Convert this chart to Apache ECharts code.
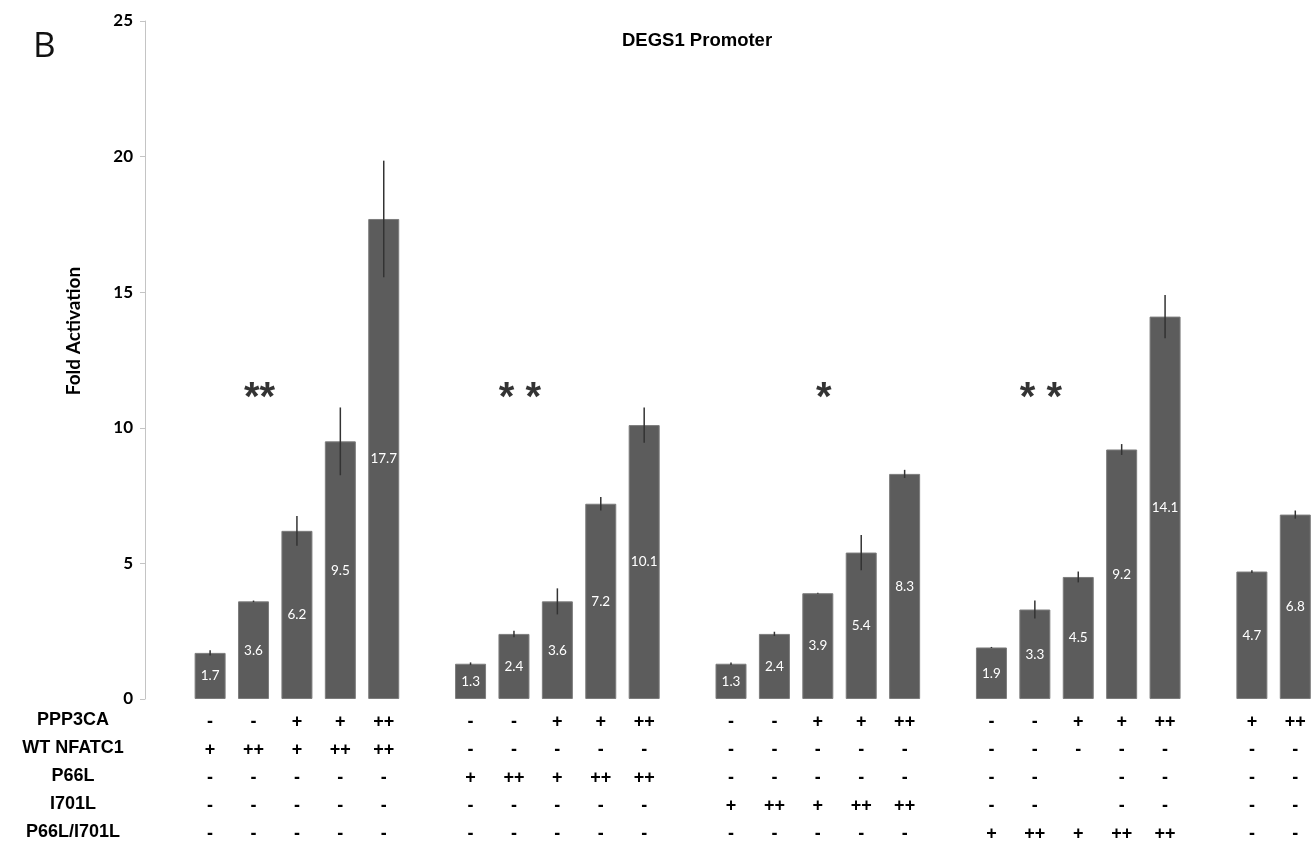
<!DOCTYPE html>
<html>
<head>
<meta charset="utf-8">
<title>DEGS1 Promoter</title>
<script src="https://cdn.jsdelivr.net/npm/echarts@6/dist/echarts.min.js"></script>
<style>
  html, body { margin: 0; padding: 0; background: #fff; }
  #main { width: 1313px; height: 844px; }
</style>
</head>
<body>
<div id="main"></div>
<script>
// bar values, one slot per column, null = gap between groups
const foldValues = [null, 1.7, 3.6, 6.2, 9.5, 17.7,
                    null, 1.3, 2.4, 3.6, 7.2, 10.1,
                    null, 1.3, 2.4, 3.9, 5.4, 8.3,
                    null, 1.9, 3.3, 4.5, 9.2, 14.1,
                    null, 4.7, 6.8];
// error bar half-lengths
const errValues = [null, 0.1, 0.03, 0.55, 1.25, 2.15,
                   null, 0.05, 0.12, 0.48, 0.25, 0.65,
                   null, 0.05, 0.08, 0.02, 0.65, 0.15,
                   null, 0.02, 0.33, 0.2, 0.2, 0.8,
                   null, 0.05, 0.15];

// table under the bars
const rowNames = ['PPP3CA', 'WT NFATC1', 'P66L', 'I701L', 'P66L/I701L'];
const rowPPP3CA  = ['', '-', '-', '+', '+', '++', '', '-', '-', '+', '+', '++', '', '-', '-', '+', '+', '++', '', '-', '-', '+', '+', '++', '', '+', '++'];
const rowNFATC1  = ['', '+', '++', '+', '++', '++', '', '-', '-', '-', '-', '-', '', '-', '-', '-', '-', '-', '', '-', '-', '-', '-', '-', '', '-', '-'];
const rowP66L    = ['', '-', '-', '-', '-', '-', '', '+', '++', '+', '++', '++', '', '-', '-', '-', '-', '-', '', '-', '-', ' ', '-', '-', '', '-', '-'];
const rowI701L   = ['', '-', '-', '-', '-', '-', '', '-', '-', '-', '-', '-', '', '+', '++', '+', '++', '++', '', '-', '-', ' ', '-', '-', '', '-', '-'];
const rowDouble  = ['', '-', '-', '-', '-', '-', '', '-', '-', '-', '-', '-', '', '-', '-', '-', '-', '-', '', '+', '++', '+', '++', '++', '', '-', '-'];

// significance marks
const starCats = [2, 8, 15, 20];
const starVals = [11.4, 11.4, 11.4, 11.4];
const starText = ['**', '* *', '*', '* *'];

const categories = foldValues.map((v, i) => 'c' + i);
const tableRows = [rowPPP3CA, rowNFATC1, rowP66L, rowI701L, rowDouble];

var dom = document.getElementById('main');
var myChart = echarts.init(dom, null, { renderer: 'canvas' });

const errData = [];
foldValues.forEach((v, i) => {
    if (v !== null) errData.push([i, v, errValues[i]]);
});

var option = {
    backgroundColor: '#fff',
    animation: false,
    title: {
        text: 'DEGS1 Promoter',
        left: 622,
        top: 31,
        padding: 0,
        textStyle: { fontFamily: 'Liberation Sans', fontWeight: 'bold', fontSize: 18.5, color: '#000' }
    },
    grid: { left: 145, right: -4, top: 21, bottom: 145, outerBoundsMode: 'none' },
    graphic: [
        {
            type: 'text', left: 33, top: 30,
            style: { text: 'B', fontFamily: 'Open Sans', fontSize: 35, fill: '#111' }
        },
        {
            type: 'text', x: 74, y: 331, rotation: Math.PI / 2,
            style: {
                text: 'Fold Activation', fontFamily: 'Lato', fontWeight: 'bold', fontSize: 19,
                fill: '#000', align: 'center', verticalAlign: 'middle'
            }
        }
    ].concat(rowNames.map((name, r) => ({
        type: 'text', x: 73, y: 720 + r * 28,
        style: {
            text: name, fontFamily: 'Liberation Sans', fontWeight: 'bold', fontSize: 18,
            fill: '#000', align: 'center', verticalAlign: 'middle'
        }
    }))),
    xAxis: {
        type: 'category',
        data: categories,
        axisLine: { show: false },
        axisTick: { show: false },
        axisLabel: {
            interval: 0,
            margin: 9,
            lineHeight: 28,
            fontFamily: 'Liberation Sans',
            fontWeight: 'bold',
            fontSize: 18,
            color: '#000',
            formatter: function (value, index) {
                return tableRows.map(row => row[index] || ' ').join('\n');
            }
        }
    },
    yAxis: {
        type: 'value',
        min: 0,
        max: 25,
        interval: 5,
        axisLine: { show: true, lineStyle: { color: '#c4c4c4', width: 1 } },
        axisTick: { show: true, length: 5, lineStyle: { color: '#c4c4c4' } },
        splitLine: { show: false },
        axisLabel: {
            margin: 12,
            fontFamily: 'Lato',
            fontWeight: 'bold',
            fontSize: 17,
            color: '#000'
        }
    },
    series: [
        {
            name: 'Fold Activation',
            type: 'bar',
            data: foldValues,
            barWidth: 31,
            itemStyle: { color: '#5c5c5c', borderColor: '#7c7c7c', borderWidth: 1 },
            label: {
                show: true,
                position: 'inside',
                color: '#fff',
                fontFamily: 'Lato',
                fontSize: 13.5,
                formatter: p => p.value.toFixed(1)
            }
        },
        {
            name: 'SEM',
            type: 'custom',
            z: 5,
            data: errData,
            renderItem: function (params, api) {
                const x = api.value(0), v = api.value(1), e = api.value(2);
                const top = api.coord([x, v + e]);
                const bottom = api.coord([x, v - e]);
                return {
                    type: 'line',
                    shape: { x1: top[0], y1: top[1], x2: bottom[0], y2: bottom[1] },
                    style: { stroke: '#333', lineWidth: 1.5 }
                };
            }
        },
        {
            name: 'Significance',
            type: 'scatter',
            symbolSize: 0,
            data: starCats.map((c, i) => ({ value: [c, starVals[i]], label: { formatter: starText[i] } })),
            label: {
                show: true,
                position: 'inside',
                offset: [6, 9],
                fontFamily: 'Liberation Sans',
                fontWeight: 'bold',
                fontSize: 40,
                color: '#000'
            }
        }
    ]
};

if (option && typeof option === 'object') {
    myChart.setOption(option);
}
</script>
</body>
</html>
